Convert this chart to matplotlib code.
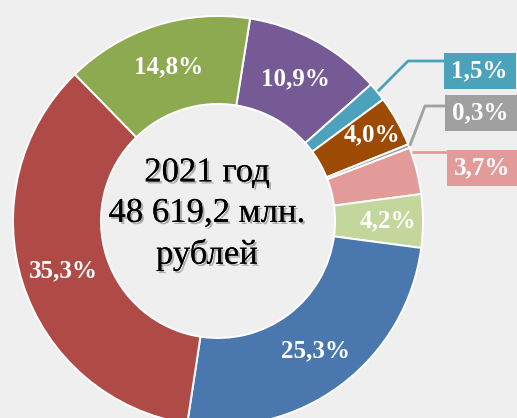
import numpy as np
import matplotlib
matplotlib.use("Agg")
import matplotlib.pyplot as plt
import matplotlib.patheffects as pe
from matplotlib.patches import Rectangle

# shares of the total, clockwise from the top
shares = [10.9, 1.5, 4.0, 0.3, 3.7, 4.2, 25.3, 35.3, 14.8]
labels = ["10,9%", "1,5%", "4,0%", "0,3%", "3,7%", "4,2%", "25,3%", "35,3%", "14,8%"]
colors = ["#765a95", "#4aa3ba", "#9c4a04", "#a0a0a0", "#e29b99",
          "#c3d69b", "#4a77ae", "#b04a47", "#8eaa50"]
outside = ["1,5%", "0,3%", "3,7%"]
center_text = "2021 год\n48 619,2 млн.\nрублей"

W, H = 517, 418
cx, cy = 218, H - 221
R, r_in = 205, 117
start = 81

fig = plt.figure(figsize=(W / 100, H / 100), dpi=100)
fig.patch.set_facecolor("#efefef")
ax = fig.add_axes([0, 0, 1, 1])
ax.set_facecolor("#efefef")

wedges, _ = ax.pie(shares, colors=colors, startangle=start, counterclock=False,
                   radius=R, center=(cx, cy),
                   wedgeprops=dict(width=R - r_in, edgecolor="white", linewidth=1.4))
ax.set_xlim(0, W)
ax.set_ylim(0, H)
ax.set_aspect("equal")
ax.axis("off")

serif = "Liberation Serif"
label_r = {"4,0%": 0.86, "4,2%": 0.83}

for w, lab in zip(wedges, labels):
    mid = np.deg2rad((w.theta1 + w.theta2) / 2)
    if lab in outside:
        continue
    k = label_r.get(lab, 0.79)
    ax.text(cx + k * R * np.cos(mid), cy + k * R * np.sin(mid), lab,
            ha="center", va="center", color="white", fontsize=18,
            fontweight="bold", family=serif)

# callouts for the thin slices: leader angle, elbow, box (left, top) in px
callouts = {
    "1,5%": dict(ang=None, elbow=(408, 61), box=(444, 53)),
    "0,3%": dict(ang=None, elbow=(425, 106), box=(445, 95)),
    "3,7%": dict(ang=19.6, elbow=None, box=(447, 150)),
}
bw, bh = 72, 36
for w, lab, col in zip(wedges, labels, colors):
    if lab not in outside:
        continue
    c = callouts[lab]
    a = c["ang"] if c["ang"] is not None else (w.theta1 + w.theta2) / 2
    a = np.deg2rad(a)
    x0, y0 = cx + (R + 1) * np.cos(a), cy + (R + 1) * np.sin(a)
    if c["elbow"] is not None:
        ex, ey = c["elbow"][0], H - c["elbow"][1]
    else:
        ex, ey = x0, y0
    bx, by = c["box"][0], H - c["box"][1] - bh
    ax.plot([x0, ex, bx], [y0, ey, ey], color=col, lw=2,
            solid_capstyle="butt", zorder=3)
    ax.add_patch(Rectangle((bx, by), bw, bh, fc=col, ec="none", zorder=4))
    ax.text(bx + bw / 2 - 1, by + bh / 2, lab, ha="center", va="center",
            color="white", fontsize=18, fontweight="bold", family=serif,
            zorder=5)

ax.text(cx - 11, cy + 7, center_text, ha="center", va="center",
        multialignment="center", fontsize=25, family=serif, color="black",
        linespacing=1.3,
        path_effects=[pe.withSimplePatchShadow(offset=(1.5, -1.5),
                                               shadow_rgbFace="#808080",
                                               alpha=0.6),
                      pe.Normal()])

fig.savefig("out.png", dpi=100, facecolor=fig.get_facecolor())
